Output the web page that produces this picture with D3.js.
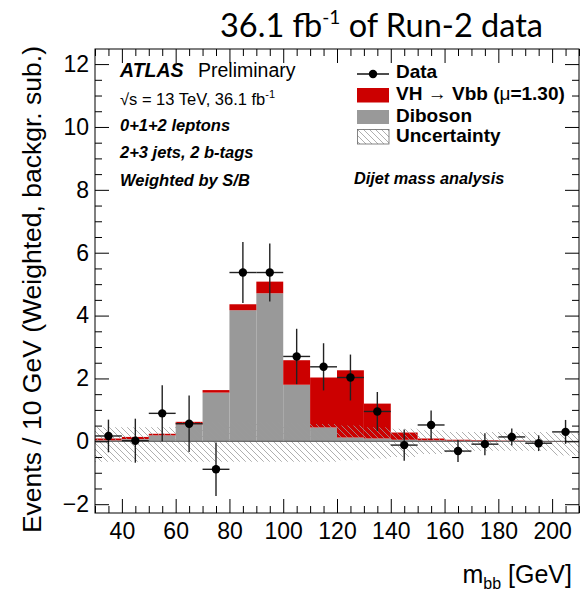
<!DOCTYPE html>
<html>
<head>
<meta charset="utf-8">
<script src="https://cdn.jsdelivr.net/npm/d3@7"></script>
<style>
  html, body { margin: 0; padding: 0; background: #fff; }
  svg { display: block; }
  text { font-family: "Liberation Sans", Arial, Helvetica, sans-serif; fill: #000; }
</style>
</head>
<body>
<svg id="chart" width="584" height="595"></svg>
<script>
// m_bb bin edges [GeV]
const binLow  = [30, 40, 50, 60, 70, 80, 90, 100, 110, 120, 130, 140, 150, 160, 170, 180, 190, 200];
const binHigh = [40, 50, 60, 70, 80, 90, 100, 110, 120, 130, 140, 150, 160, 170, 180, 190, 200, 210];

// Weighted, background-subtracted yields per bin
const diboson = [0.03, 0.07, 0.19, 0.54, 1.55, 4.17, 4.71, 1.80, 0.44, 0.12, 0.09, 0.05, 0.03, 0.02, 0.01, 0.01, 0.00, 0.00];
const vhSignal = [0.06, 0.07, 0.05, 0.08, 0.08, 0.19, 0.37, 0.78, 1.59, 2.14, 1.11, 0.23, 0.06, 0.03, 0.02, 0.01, 0.01, 0.01];

// Data points and their errors
const dataVal = [0.17, 0.02, 0.89, 0.56, -0.89, 5.37, 5.37, 2.70, 2.37, 2.03, 0.95, -0.12, 0.52, -0.31, -0.09, 0.14, -0.06, 0.30];
const dataErr = [0.52, 0.70, 0.89, 0.90, 0.85, 0.97, 0.92, 0.88, 0.75, 0.73, 0.62, 0.50, 0.46, 0.35, 0.35, 0.27, 0.25, 0.38];

// Background-subtraction uncertainty band (around zero)
const uncUp   = [0.45, 0.45, 0.45, 0.60, 0.60, 0.60, 0.60, 0.58, 0.55, 0.50, 0.45, 0.40, 0.35, 0.30, 0.30, 0.30, 0.30, 0.25];
const uncDown = [0.65, 0.65, 0.65, 0.65, 0.65, 0.65, 0.65, 0.65, 0.65, 0.60, 0.55, 0.50, 0.40, 0.35, 0.30, 0.30, 0.30, 0.45];

// Axis ticks
const xMajor = [40, 60, 80, 100, 120, 140, 160, 180, 200];
const yMajor = [-2, 0, 2, 4, 6, 8, 10, 12];

const svg = d3.select("#chart");
const P = { left: 95, top: 49, right: 579, bottom: 513 };

const x = d3.scaleLinear().domain([30, 210]).range([P.left, P.right]);
const y = d3.scaleLinear().domain([-2.28, 12.48]).range([P.bottom, P.top]);

const xMinor = d3.range(30, 211, 5).filter(v => v % 20 !== 0);
const yMinor = d3.range(-2, 12.49, 0.5).filter(v => v % 2 !== 0);

// Hatch pattern for the uncertainty band
const defs = svg.append("defs");
const pat = defs.append("pattern")
  .attr("id", "hatch").attr("patternUnits", "userSpaceOnUse")
  .attr("width", 6).attr("height", 6);
pat.append("path")
  .attr("d", "M0,0 L6,6 M-1,5 L1,7 M5,-1 L7,1")
  .attr("stroke", "#9a9a9a").attr("stroke-width", 0.8);

defs.append("clipPath").attr("id", "plotclip")
  .append("rect").attr("x", P.left).attr("y", P.top)
  .attr("width", P.right - P.left).attr("height", P.bottom - P.top);

const plot = svg.append("g").attr("clip-path", "url(#plotclip)");

const bins = binLow.map((lo, i) => ({
  lo, hi: binHigh[i], db: diboson[i], vh: vhSignal[i],
  d: dataVal[i], e: dataErr[i], up: uncUp[i], dn: uncDown[i]
}));

// Stacked histogram: diboson then VH signal
plot.selectAll("rect.db").data(bins).join("rect")
  .attr("class", "db")
  .attr("x", d => x(d.lo)).attr("width", d => x(d.hi) - x(d.lo))
  .attr("y", d => y(Math.max(d.db, 0))).attr("height", d => Math.abs(y(0) - y(d.db)))
  .attr("fill", "#999999");

plot.selectAll("rect.vh").data(bins).join("rect")
  .attr("class", "vh")
  .attr("x", d => x(d.lo)).attr("width", d => x(d.hi) - x(d.lo))
  .attr("y", d => y(d.db + d.vh)).attr("height", d => y(d.db) - y(d.db + d.vh))
  .attr("fill", "#cc0000");

// Uncertainty band as a step area
const bandPts = [];
bins.forEach(b => { bandPts.push({ x: b.lo, up: b.up, dn: b.dn }); bandPts.push({ x: b.hi, up: b.up, dn: b.dn }); });
plot.append("path")
  .datum(bandPts)
  .attr("d", d3.area().x(d => x(d.x)).y0(d => y(-d.dn)).y1(d => y(d.up)))
  .attr("fill", "url(#hatch)");

// Zero line
plot.append("line")
  .attr("x1", P.left).attr("x2", P.right)
  .attr("y1", y(0)).attr("y2", y(0))
  .attr("stroke", "#555").attr("stroke-width", 1);

// Data points with error bars
const pts = plot.selectAll("g.pt").data(bins).join("g").attr("class", "pt");
pts.append("line")
  .attr("x1", d => x(d.lo)).attr("x2", d => x(d.hi))
  .attr("y1", d => y(d.d)).attr("y2", d => y(d.d))
  .attr("stroke", "#222").attr("stroke-width", 1.4);
pts.append("line")
  .attr("x1", d => x((d.lo + d.hi) / 2)).attr("x2", d => x((d.lo + d.hi) / 2))
  .attr("y1", d => y(d.d - d.e)).attr("y2", d => y(d.d + d.e))
  .attr("stroke", "#222").attr("stroke-width", 1.4);
pts.append("circle")
  .attr("cx", d => x((d.lo + d.hi) / 2)).attr("cy", d => y(d.d))
  .attr("r", 4.2).attr("fill", "#000");

// Frame and axes (ticks on all four sides, pointing inwards)
function styleAxis(g) {
  g.select(".domain").remove();
  g.selectAll(".tick line").attr("stroke", "#000").attr("stroke-width", 1);
  g.selectAll(".tick text").style("font-size", "23px").style("font-family", "Liberation Sans, Arial, sans-serif");
}
svg.append("g").attr("transform", `translate(0,${P.bottom})`)
  .call(d3.axisBottom(x).tickValues(xMajor).tickSize(-14).tickPadding(10).tickFormat(d3.format("d")))
  .call(styleAxis);
svg.append("g").attr("transform", `translate(0,${P.bottom})`)
  .call(d3.axisBottom(x).tickValues(xMinor).tickSize(-7).tickFormat(""))
  .call(styleAxis);
svg.append("g").attr("transform", `translate(0,${P.top})`)
  .call(d3.axisTop(x).tickValues(xMajor).tickSize(-14).tickFormat(""))
  .call(styleAxis);
svg.append("g").attr("transform", `translate(0,${P.top})`)
  .call(d3.axisTop(x).tickValues(xMinor).tickSize(-7).tickFormat(""))
  .call(styleAxis);
svg.append("g").attr("transform", `translate(${P.left},0)`)
  .call(d3.axisLeft(y).tickValues(yMajor).tickSize(-14).tickPadding(6).tickFormat(d3.format("d")))
  .call(styleAxis);
svg.append("g").attr("transform", `translate(${P.left},0)`)
  .call(d3.axisLeft(y).tickValues(yMinor).tickSize(-7).tickFormat(""))
  .call(styleAxis);
svg.append("g").attr("transform", `translate(${P.right},0)`)
  .call(d3.axisRight(y).tickValues(yMajor).tickSize(-14).tickFormat(""))
  .call(styleAxis);
svg.append("g").attr("transform", `translate(${P.right},0)`)
  .call(d3.axisRight(y).tickValues(yMinor).tickSize(-7).tickFormat(""))
  .call(styleAxis);

svg.append("rect")
  .attr("x", P.left).attr("y", P.top)
  .attr("width", P.right - P.left).attr("height", P.bottom - P.top)
  .attr("fill", "none").attr("stroke", "#000").attr("stroke-width", 1);

// Axis titles
svg.append("text")
  .attr("transform", "translate(41,46) rotate(-90)")
  .attr("text-anchor", "end")
  .style("font-size", "26.5px")
  .text("Events / 10 GeV (Weighted, backgr. sub.)");

const xt = svg.append("text")
  .attr("x", 572).attr("y", 583).attr("text-anchor", "end")
  .style("font-size", "25px");
xt.append("tspan").text("m");
xt.append("tspan").attr("dy", 6).style("font-size", "16px").text("bb");
xt.append("tspan").attr("dy", -6).text(" [GeV]");

// Header
const title = svg.append("text")
  .attr("x", 543).attr("y", 37).attr("text-anchor", "end")
  .style("font-family", "Lato, 'Open Sans', sans-serif").style("font-size", "32.5px");
title.append("tspan").text("36.1 fb");
title.append("tspan").attr("dy", -13).style("font-size", "19px").text("-1");
title.append("tspan").attr("dy", 13).text(" of Run-2 data");

// ATLAS label and analysis info
const atl = svg.append("text").attr("x", 120).attr("y", 77).style("font-size", "19.5px");
atl.append("tspan").style("font-weight", "bold").style("font-style", "italic").text("ATLAS");
atl.append("tspan").attr("x", 198).text("Preliminary");

const rs = svg.append("text").attr("x", 120).attr("y", 105).style("font-size", "16.5px");
rs.append("tspan").text("\u221As = 13 TeV, 36.1 fb");
rs.append("tspan").attr("dy", -7).style("font-size", "11px").text("-1");

const infoLines = ["0+1+2 leptons", "2+3 jets, 2 b-tags", "Weighted by S/B"];
const infoY = [131, 158, 186];
infoLines.forEach((t, i) => {
  svg.append("text").attr("x", 120).attr("y", infoY[i])
    .style("font-size", "16.5px").style("font-weight", "bold").style("font-style", "italic")
    .text(t);
});

svg.append("text").attr("x", 354).attr("y", 184)
  .style("font-size", "16.3px").style("font-weight", "bold").style("font-style", "italic")
  .text("Dijet mass analysis");

// Legend
const lg = svg.append("g");
lg.append("line").attr("x1", 357).attr("x2", 389).attr("y1", 74).attr("y2", 74)
  .attr("stroke", "#000").attr("stroke-width", 1.4);
lg.append("circle").attr("cx", 373).attr("cy", 74).attr("r", 4.2).attr("fill", "#000");
lg.append("rect").attr("x", 357).attr("y", 88).attr("width", 32).attr("height", 14.5).attr("fill", "#cc0000");
lg.append("rect").attr("x", 357).attr("y", 110).attr("width", 32).attr("height", 14).attr("fill", "#999999");
lg.append("rect").attr("x", 357.5).attr("y", 129.5).attr("width", 31.5).attr("height", 14.5)
  .attr("fill", "url(#hatch)").attr("stroke", "#666").attr("stroke-width", 0.8);

const legY = [78, 100, 122, 142];
const legFont = "19px";
lg.append("text").attr("x", 396).attr("y", legY[0]).style("font-size", legFont).style("font-weight", "bold").text("Data");
const vhT = lg.append("text").attr("x", 396).attr("y", legY[1]).style("font-size", legFont).style("font-weight", "bold");
vhT.append("tspan").text("VH ");
vhT.append("tspan").style("font-weight", "normal").text(" \u2192 ");
vhT.append("tspan").text("Vbb (");
vhT.append("tspan").style("font-weight", "normal").text("\u03BC");
vhT.append("tspan").text("=1.30)");
lg.append("text").attr("x", 396).attr("y", legY[2]).style("font-size", legFont).style("font-weight", "bold").text("Diboson");
lg.append("text").attr("x", 396).attr("y", legY[3]).style("font-size", legFont).style("font-weight", "bold").text("Uncertainty");
</script>
</body>
</html>
